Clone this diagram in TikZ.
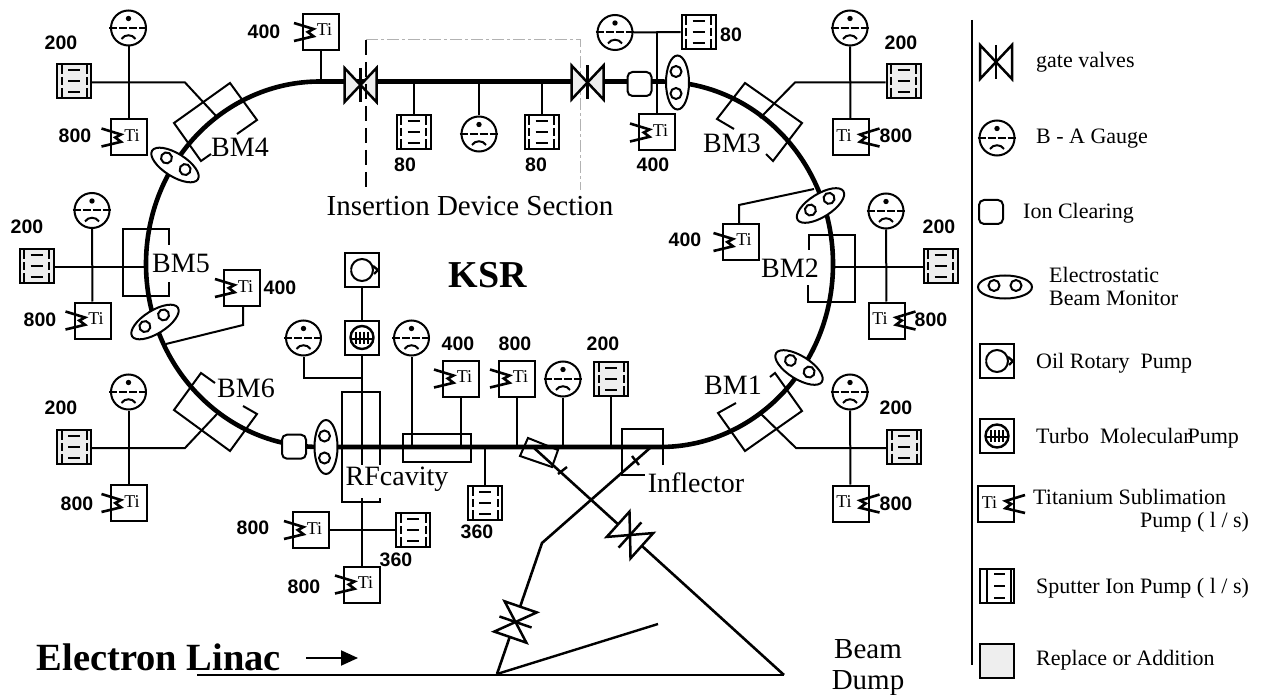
\documentclass[tikz,border=0pt]{standalone}
\usepackage{fontspec}
\setmainfont{Liberation Serif}
\setsansfont{Liberation Sans}
\usetikzlibrary{arrows.meta}
\definecolor{repgray}{HTML}{EEEEEE}
\newcommand{\sputface}{%
  \foreach \vx in {-12.5,12.5} {\draw[line width=2] (\vx,-17) -- (\vx,-7) (\vx,-4) -- (\vx,4) (\vx,7) -- (\vx,17);}
  \foreach \vy in {-11,0,11} {\draw[line width=2] (-6,\vy) -- (6,\vy);}}
\tikzset{
  ring/.style={line width=4.6},
  conn/.style={line width=2},
  zig/.style={line width=2.6},
  rate/.style={font=\sffamily\bfseries\fontsize{19.5}{20}\selectfont,inner sep=0},
  lbl/.style={font=\fontsize{28}{30}\selectfont,inner sep=0},
  legtxt/.style={font=\fontsize{22}{23}\selectfont,inner sep=0,anchor=west,align=left},
  box/.style={draw,line width=2,fill=white,minimum size=34,inner sep=0},
  tibox/.style={box,minimum size=36,font=\fontsize{18}{20}\selectfont,text height=12pt,text depth=4pt},
  tileft/.style={tibox,execute at begin node={\hspace*{7pt}}},
  tiright/.style={tibox,execute at end node={\hspace*{13pt}}},
  sputter/.style={box},
  sputgray/.style={box,fill=repgray},
  sputkey/.style={box,path picture={\begin{scope}[shift={(path picture bounding box.center)}]
    \draw[line width=2] (-10,-17) -- (-10,17) (14,-17) -- (14,17);
    \foreach \vy in {-12,0,12} {\draw[line width=2] (-3,\vy) -- (8,\vy);}
    \end{scope}}},
  gauge/.style={circle,draw,line width=2,fill=white,minimum size=35,inner sep=0},
  oilpump/.style={box,path picture={\begin{scope}[shift={(path picture bounding box.center)}]
    \draw[line width=2] (0,0) circle (11);
    \fill (-17,-4) -- (-11,0) -- (-17,4) -- cycle;
    \draw[line width=2.4] (11,-4) -- (16,0) -- (12,4);
    \end{scope}}},
  turbo/.style={box,path picture={\begin{scope}[shift={(path picture bounding box.center)}]
    \draw[line width=2.4] (0,0) circle (11.5);
    \draw[line width=2] (-11,1) -- (11,1);
    \foreach \vx in {-6,-2,2,6} {\draw[line width=2] (\vx,-6) -- (\vx,6);}
    \end{scope}}},
  ionclear/.style={draw,line width=2,fill=white,rounded corners=5,minimum size=24,inner sep=0},
  gatevalve/.pic={
    \draw[pic actions,line width=2.5] (0,0) -- (-16,-17) -- (-16,17) -- cycle (0,0) -- (16,-17) -- (16,17) -- cycle;
    \draw[line width=2.5] (0,-17) -- (0,17);
  },
  bpm/.pic={
    \draw[line width=2,fill=white] (0,0) ellipse (27 and 11.5);
    \draw[line width=2,fill=white] (-11,-1.5) circle (5.5) (11,-1.5) circle (5.5);
  }
}
\begin{document}
\begin{tikzpicture}[x=1pt,y=-1pt]
\useasboundingbox (0,0) rectangle (1261,695);
% ring
\draw[ring] (320,81.5) .. controls (224,81.5) and (146,163) .. (146,264) .. controls (146,365) and (224,447) .. (320,447) -- (660,447) .. controls (756,447) and (833,365) .. (833,264) .. controls (833,163) and (756,81.5) .. (660,81.5) -- cycle;
% magnets
\draw[conn] (237,134) -- (257,120) -- (230,83) -- (174,123) -- (201,161) -- (211,154);
\draw[conn] (734,129) -- (717,119) -- (745,83) -- (802,123) -- (773,161) -- (766,154);
\draw[conn] (169,245) -- (169,229) -- (123,229) -- (123,296) -- (169,296) -- (169,282);
\draw[conn] (809,250) -- (809,235) -- (855,235) -- (855,302) -- (808,302) -- (808,285);
\draw[conn] (215,383) -- (201,373) -- (174,410) -- (230,451) -- (257,414) -- (243,406);
\draw[conn] (770,377) -- (775,373) -- (802,411) -- (745,451) -- (718,413) -- (736,403);
% straight section boxes
\draw[conn] (380,465) -- (380,392) -- (342,392) -- (342,502) -- (380,502) -- (380,498);
\draw[conn] (403,434) rectangle (471,462);
\draw[conn] (528,438) -- (520,456) -- (552,467) -- (558,450) -- cycle;
\draw[conn] (663,465) -- (663,429) -- (622,429) -- (622,475) -- (645,475);
\draw[line width=2.4] (558,474) -- (567,467);
\draw[line width=2.4] (632,456) -- (639,465);
% section outline
\draw[line width=0.8,gray!60,dash pattern=on 12pt off 3pt on 3pt off 3pt] (366,39.5) -- (580,39.5) -- (580,190);
% BM4 group
\node[gauge] (gBMfour) at (128.5,28) {};
\node[sputgray] (sBMfour) at (74,81) {};
\node[tileft] (tBMfour) at (128.5,137.5) {Ti};
\node[rate] (rsBMfour) at (61,43) {200};
\node[rate] (rtBMfour) at (75,136) {800};
\coordinate (jBMfour) at (185,82.5);
\coordinate (mBMfour) at (217,117);
\draw[conn] (gBMfour) -- (tBMfour);
\draw[conn] (sBMfour.east |- jBMfour) -- (jBMfour) -- (mBMfour);
\node[lbl] (lBMfour) at (240,147) {BM4};
% BM5 group
\node[gauge] (gBMfive) at (92,210.5) {};
\node[sputgray] (sBMfive) at (36.5,266) {};
\node[tileft] (tBMfive) at (92.5,320.5) {Ti};
\node[rate] (rsBMfive) at (27,227) {200};
\node[rate] (rtBMfive) at (40,320) {800};
\coordinate (mBMfive) at (146,266.5);
\draw[conn] (gBMfive) -- (tBMfive);
\draw[conn] (sBMfive.east |- mBMfive) -- (mBMfive);
\node[lbl] (lBMfive) at (181,263) {BM5};
% BM6 group
\node[gauge] (gBMsix) at (128.5,392) {};
\node[sputgray] (sBMsix) at (74,447) {};
\node[tileft] (tBMsix) at (128.5,503) {Ti};
\node[rate] (rsBMsix) at (61,408) {200};
\node[rate] (rtBMsix) at (77,504) {800};
\coordinate (jBMsix) at (185,448);
\coordinate (mBMsix) at (217,414);
\draw[conn] (gBMsix) -- (tBMsix);
\draw[conn] (sBMsix.east |- jBMsix) -- (jBMsix) -- (mBMsix);
\node[lbl] (lBMsix) at (246,388) {BM6};
% BM3 group
\node[gauge] (gBMthree) at (850,28) {};
\node[sputgray] (sBMthree) at (903.5,81) {};
\node[tiright] (tBMthree) at (850.5,137.5) {Ti};
\node[rate] (rsBMthree) at (901,43) {200};
\node[rate] (rtBMthree) at (896,136) {800};
\coordinate (jBMthree) at (795,82.5);
\coordinate (mBMthree) at (760,118);
\draw[conn] (gBMthree) -- (tBMthree);
\draw[conn] (sBMthree.west |- jBMthree) -- (jBMthree) -- (mBMthree);
\node[lbl] (lBMthree) at (732,143) {BM3};
% BM2 group
\node[gauge] (gBMtwo) at (886,211) {};
\node[sputgray] (sBMtwo) at (940.5,266) {};
\node[tiright] (tBMtwo) at (886.5,320.5) {Ti};
\node[rate] (rsBMtwo) at (939,227) {200};
\node[rate] (rtBMtwo) at (931,320) {800};
\coordinate (mBMtwo) at (833,266.5);
\draw[conn] (gBMtwo) -- (tBMtwo);
\draw[conn] (sBMtwo.west |- mBMtwo) -- (mBMtwo);
\node[lbl] (lBMtwo) at (790,268) {BM2};
% BM1 group
\node[gauge] (gBMone) at (850,392) {};
\node[sputgray] (sBMone) at (904,446.5) {};
\node[tiright] (tBMone) at (850.5,503.5) {Ti};
\node[rate] (rsBMone) at (896,408) {200};
\node[rate] (rtBMone) at (896,504) {800};
\coordinate (jBMone) at (796,448);
\coordinate (mBMone) at (760,413);
\draw[conn] (gBMone) -- (tBMone);
\draw[conn] (sBMone.west |- jBMone) -- (jBMone) -- (mBMone);
\node[lbl] (lBMone) at (733,385) {BM1};
% insertion device section
\node[tileft] (tTop) at (321,32) {Ti};
\coordinate (cTop) at (321,81.5);
\draw[conn] (tTop) -- (cTop);
\node[rate] (rTop) at (264,32) {400};
\node[sputter] (sSecA) at (413.5,132) {};
\node[gauge] (gSec) at (479,134) {};
\node[sputter] (sSecB) at (541.5,132) {};
\coordinate (cSecA) at (413.5,81.5);
\coordinate (cSec) at (479,81.5);
\coordinate (cSecB) at (541.5,81.5);
\draw[conn] (sSecA) -- (cSecA);
\draw[conn] (gSec) -- (cSec);
\draw[conn] (sSecB) -- (cSecB);
\node[rate] (nSecA) at (405,165) {80};
\node[rate] (nSecB) at (536,165) {80};
\pic[fill=repgray] at (360.5,85) {gatevalve};
\pic[fill=repgray] at (587.5,82.5) {gatevalve};
\draw[line width=2.4,dash pattern=on 15pt off 7pt] (366,40) -- (366,190);
\node[lbl,font=\fontsize{29}{30}\selectfont] (lSec) at (470,206) {Insertion Device Section};
% top right group
\node[gauge] (gTop) at (615,32.5) {};
\node[sputter] (sTop) at (698.5,32) {};
\node[tileft] (tRight) at (657,132.5) {Ti};
\coordinate (jTop) at (657,32);
\draw[conn] (gTop) -- (sTop);
\draw[conn] (jTop) -- (tRight);
\node[ionclear] (ionTop) at (639.5,84) {};
\pic[rotate=90] at (677.5,82.5) {bpm};
\node[rate] (rtRight) at (653,165) {400};
\node[rate] (rsTop) at (731,35) {80};
% monitors on the arcs
\pic[rotate=-32] at (175,165) {bpm};
\pic[rotate=32] at (820.5,205.5) {bpm};
\pic[rotate=32] at (155,322) {bpm};
\pic[rotate=-32] at (799,367.5) {bpm};
% inner pumps on the arcs
\node[tileft] (tIn) at (740.5,242) {Ti};
\node[tileft] (tInner) at (242,288) {Ti};
\coordinate (jInner) at (243,325);
\coordinate (mInner) at (166,344);
\coordinate (jIn) at (739,205);
\coordinate (mIn) at (814,189);
\draw[conn] (tInner.south -| jInner) -- (jInner) -- (mInner);
\draw[conn] (tIn.north -| jIn) -- (jIn) -- (mIn);
\node[rate] (rInner) at (280,288) {400};
\node[rate] (rIn) at (685,240) {400};
% KSR
\node[font=\bfseries\fontsize{38}{40}\selectfont,inner sep=0] (lKSR) at (488,275) {KSR};
% RF section
\node[oilpump] (oilRF) at (362,270) {};
\node[turbo] (tmpRF) at (362,337.5) {};
\node[gauge] (gRFa) at (303.5,338) {};
\node[gauge] (gRFb) at (411.5,338) {};
\coordinate (rfEnd) at (362,465);
\coordinate (jRF) at (362,378);
\coordinate (cGRFa) at (303.5,378);
\coordinate (rGRFb) at (411.5,447);
\draw[conn] (oilRF) -- (tmpRF);
\draw[conn] (tmpRF) -- (rfEnd);
\draw[conn] (gRFa) -- (cGRFa) -- (jRF);
\draw[conn] (gRFb) -- (rGRFb);
\node[ionclear] (ionBot) at (294,446.7) {};
\pic[rotate=90] at (326,447) {bpm};
\node[lbl] (lRF) at (397,479) {RFcavity};
% below RF
\node[tileft] (tRFa) at (311,530) {Ti};
\node[sputter] (sRFa) at (413,530) {};
\node[tileft] (tRFb) at (362,584.5) {Ti};
\coordinate (rfTop) at (362,498);
\draw[conn] (tRFa) -- (sRFa);
\draw[conn] (rfTop) -- (tRFb);
\node[rate] (rtRFa) at (253,528) {800};
\node[rate] (rsRFa) at (396,560) {360};
\node[rate] (rtRFb) at (304,587) {800};
% bottom straight pumps
\node[tileft] (tBotA) at (461,378.5) {Ti};
\node[tileft] (tBotB) at (517,378.5) {Ti};
\node[gauge] (gBot) at (563,379) {};
\node[sputgray] (sBotA) at (611,379) {};
\node[sputter] (sBotB) at (485,503) {};
\coordinate (cBotA) at (461,447);
\coordinate (cBotB) at (517,447);
\coordinate (cBotC) at (563,447);
\coordinate (cBotD) at (611,447);
\coordinate (cBotE) at (485,447);
\draw[conn] (tBotA) -- (cBotA);
\draw[conn] (tBotB) -- (cBotB);
\draw[conn] (gBot) -- (cBotC);
\draw[conn] (sBotA) -- (cBotD);
\draw[conn] (sBotB) -- (cBotE);
\node[rate] (rtBotA) at (458,344) {400};
\node[rate] (rtBotB) at (515,344) {800};
\node[rate] (rsBotA) at (603,344) {200};
\node[rate] (rsBotB) at (477,532) {360};
\node[lbl] (lInf) at (696,483) {Inflector};
% transfer lines
\coordinate (bdA) at (533,447);
\coordinate (bdB) at (784,675);
\coordinate (inA) at (650,448);
\coordinate (inB) at (542,543);
\coordinate (inC) at (497,674);
\coordinate (liA) at (197,675);
\coordinate (liB) at (658,624);
\draw[line width=2.6] (bdA) -- (bdB);
\draw[line width=2.6] (inA) -- (inB) -- (inC);
\draw[line width=2.4] (inC) -- (liB);
\draw[line width=2.2] (liA) -- (bdB);
\pic[rotate=-42,fill=white] at (630,535) {gatevalve};
\pic[rotate=71,fill=white] at (515.5,622) {gatevalve};
\node[font=\bfseries\fontsize{38.5}{40}\selectfont,inner sep=0] (lLinac) at (159,657) {Electron Linac};
\coordinate (arA) at (306,658);
\coordinate (arB) at (358,658);
\draw[line width=2,-{Triangle[length=17pt,width=15pt]}] (arA) -- (arB);
\node[font=\fontsize{29}{31}\selectfont,inner sep=0,align=center] (lDump) at (868,668) {Beam\\Dump};
% legend
\coordinate (legA) at (972,20);
\coordinate (legB) at (972,665);
\draw[line width=2.6] (legA) -- (legB);
\pic at (996,62) {gatevalve};
\node[legtxt] (tValve) at (1036,62) {gate valves};
\node[gauge] (kGauge) at (997,138) {};
\node[legtxt] (tGauge) at (1036,139) {B - A Gauge};
\node[ionclear] (kIon) at (991,212) {};
\node[legtxt] (tIon) at (1023,213) {Ion Clearing};
\pic at (1005,287) {bpm};
\node[legtxt] (tBpm) at (1049,286) {Electrostatic\\Beam Monitor};
\node[oilpump] (kOil) at (997,361) {};
\node[legtxt] (tOil) at (1036,363) {Oil Rotary\ \ Pump};
\node[turbo] (kTmp) at (997,436) {};
\node[legtxt] (tTmp) at (1036,438) {Turbo\ \ Molecular\kern-3pt Pump};
\node[tiright] (kTi) at (996,504) {Ti};
\node[legtxt] (tTiA) at (1033,497) {Titanium Sublimation};
\node[legtxt] (tTiB) at (1140,522) {Pump ( l / s)};
\node[sputkey] (kSput) at (997,586) {};
\node[legtxt] (tSput) at (1036,588) {Sputter Ion Pump ( l / s)};
\node[box,fill=repgray] (kRep) at (997,660.5) {};
\node[legtxt] (tRep) at (1036,660) {Replace or Addition};
% sputter pump faces
\foreach \sp in {sBMfour,sBMfive,sBMsix,sBMthree,sBMtwo,sBMone,sBotA,sBotB,sSecA,sSecB,sTop,sRFa} {
  \begin{scope}[shift={(\sp.center)}]
    \sputface
  \end{scope}
}
% gauge faces
\foreach \gg in {gBMfour,gBMfive,gBMsix,gBMthree,gBMtwo,gBMone,gSec,gTop,gRFa,gRFb,gBot,kGauge} {
  \fill ([yshift=9.5pt]\gg.center) circle (2.7);
  \draw[line width=2,dash pattern=on 8pt off 2pt] ([xshift=-19.5pt]\gg.center) -- ([xshift=19.5pt]\gg.center);
  \draw[line width=2] ([shift={(-7,11)}]\gg.center) .. controls ([shift={(-4,6)}]\gg.center) and ([shift={(4,6)}]\gg.center) .. ([shift={(7,11)}]\gg.center);
}
% sublimation pump getters
\foreach \tt in {tBMfour,tBMfive,tBMsix,tTop,tRight,tIn,tInner,tRFa,tRFb,tBotA,tBotB} {
  \draw[zig] ([shift={(-8,-9)}]\tt.west) -- ++(19.5,6) -- ++(-5.7,3) -- ++(5.7,4.3) -- ++(-19.5,4.7);
}
\foreach \tt in {tBMthree,tBMtwo,tBMone,kTi} {
  \draw[zig] ([shift={(10,-9)}]\tt.east) -- ++(-19.5,6) -- ++(5.7,3) -- ++(-5.7,4.3) -- ++(19.5,4.7);
}
\end{tikzpicture}
\end{document}
